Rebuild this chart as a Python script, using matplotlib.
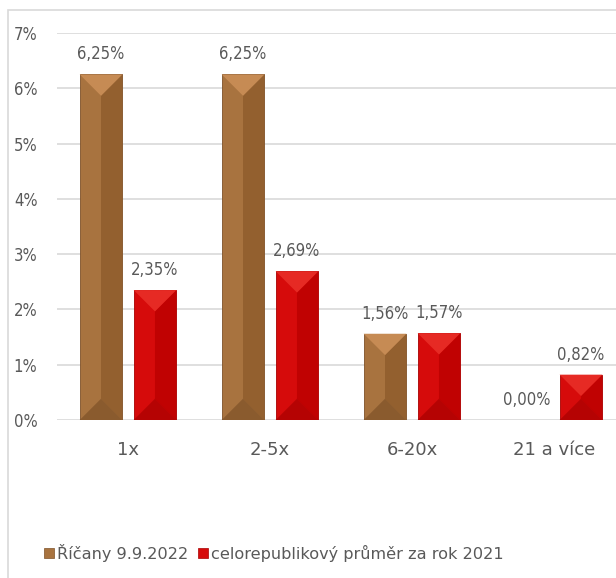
import numpy as np
import matplotlib.pyplot as plt
from matplotlib.patches import Polygon, Rectangle

# data
categories = ['1x', '2-5x', '6-20x', '21 a více']
ricany = [6.25, 6.25, 1.56, 0.00]
cr_prumer = [2.35, 2.69, 1.57, 0.82]
series_names = ['Říčany 9.9.2022', 'celorepublikový průměr za rok 2021']
yticks = [0, 1, 2, 3, 4, 5, 6, 7]

plt.rcParams['font.family'] = ['DejaVu Sans']
txt = '#595959'
grid = '#D9D9D9'

# base, light (top), dark (right half), darker (bottom)
brown = ('#A8733F', '#C68B54', '#93602F', '#7E5128')
red = ('#D60B0B', '#E62A24', '#C00202', '#A80000')

fig = plt.figure(figsize=(6.16, 5.78), dpi=100)
# chart frame (image is cropped at top/right)
fig.patches.append(Rectangle((8/616, -0.1), 1.2, 1.1 - 10/578, transform=fig.transFigure,
                             fill=False, edgecolor=grid, linewidth=1.2))
ax = fig.add_axes([57/616, 158/578, 568/616, 387/578])

x = np.arange(len(categories))
w = 0.30
off = 0.19
ax.set_xlim(-0.5, len(categories) - 0.5)
ax.set_ylim(0, 7)

# px per data unit for the bevel shape
fw, fh = fig.get_size_inches() * fig.dpi
pos = ax.get_position()
px_x = pos.width * fw / 4.0
px_y = pos.height * fh / 7.0
depth = (w / 2) * px_x / px_y

def bevel_bar(xc, h, cols):
    if h <= 0:
        return
    l, r = xc - w/2, xc + w/2
    ax.bar(xc, h, w, color=cols[0], edgecolor=cols[3], linewidth=0.6, zorder=3)
    d = min(depth, h / 2)
    ax.add_patch(Polygon([(xc, d), (r, 0), (r, h), (xc, h - d)], closed=True,
                         facecolor=cols[2], edgecolor='none', zorder=4))
    ax.add_patch(Polygon([(l, h), (r, h), (xc, h - d)], closed=True,
                         facecolor=cols[1], edgecolor='none', zorder=5))
    ax.add_patch(Polygon([(l, 0), (r, 0), (xc, d)], closed=True,
                         facecolor=cols[3], edgecolor='none', alpha=0.7, zorder=5))

for i in range(len(categories)):
    bevel_bar(x[i] - off, ricany[i], brown)
    bevel_bar(x[i] + off, cr_prumer[i], red)

# value labels
for i in range(len(categories)):
    for xx, v in [(x[i] - off, ricany[i]), (x[i] + off, cr_prumer[i])]:
        ax.annotate(f'{v:.2f}'.replace('.', ',') + '%', (xx, v), xytext=(0, 8),
                    textcoords='offset points', ha='center', va='bottom',
                    fontsize=12, fontstretch='condensed', color=txt)

ax.set_yticks(yticks)
ax.set_yticklabels([f'{t}%' for t in yticks], fontstretch='condensed')
ax.set_xticks(x)
ax.set_xticklabels(categories)
ax.tick_params(axis='y', length=0, pad=14, labelsize=12, labelcolor=txt)
ax.tick_params(axis='x', length=0, pad=15, labelsize=13, labelcolor=txt)
ax.grid(axis='y', color=grid, linewidth=1.2, zorder=0)
ax.set_axisbelow(True)
for s in ax.spines.values():
    s.set_visible(False)

# legend
h1 = Rectangle((0, 0), 1, 1, facecolor=brown[0], edgecolor=brown[3], linewidth=0.5)
h2 = Rectangle((0, 0), 1, 1, facecolor=red[0], edgecolor=red[3], linewidth=0.5)
fig.legend([h1, h2], series_names, loc='center', bbox_to_anchor=(274/616, 1 - 553/578),
           ncol=2, frameon=False, fontsize=11.6, labelcolor=txt, handlelength=0.6,
           handleheight=0.6, handletextpad=0.2, columnspacing=0.6)

fig.savefig('out.png', dpi=100)
